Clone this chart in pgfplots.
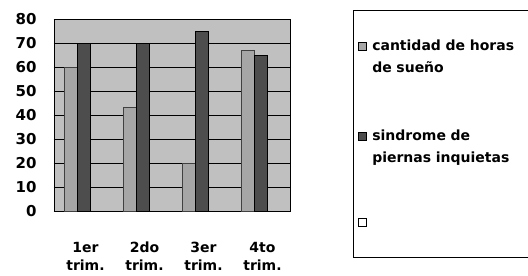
\documentclass[border=0pt]{standalone}
\usepackage{pgfplots}
\pgfplotsset{compat=1.18}
\usepackage{fontspec}
\setmainfont{DejaVu Sans}
\definecolor{bg}{HTML}{C0C0C0}
\definecolor{lightbar}{HTML}{A6A6A6}
\definecolor{darkbar}{HTML}{4D4D4D}
\begin{document}
\begin{tikzpicture}
\begin{axis}[
  at={(54pt,65pt)}, anchor=south west,
  width=236pt, height=192pt, scale only axis,
  xmin=0.5, xmax=4.5, ymin=0, ymax=80,
  ytick={0,10,...,80},
  xtick={1,2,3,4},
  xticklabels={{1er\strut\\trim.\strut},{2do\strut\\trim.\strut},{3er\strut\\trim.\strut},{4to\strut\\trim.\strut}},
  /pgf/number format/assume math mode=true,
  x tick label style={align=center, font=\bfseries\fontsize{14}{18}\selectfont, yshift=-21pt, xshift=2pt},
  y tick label style={font=\bfseries\fontsize{15}{15}\selectfont, xshift=-14pt},
  major x tick style={draw=none},
  extra x ticks={0.5,1.5,2.5,3.5,4.5}, extra x tick labels={},
  extra x tick style={grid=none, major tick length=5pt, tick style={black, line width=1pt}},
  ytick style={black, line width=0.8pt},
  ymajorgrids, grid style={black, line width=0.8pt},
  axis background/.style={fill=bg},
  axis line style={black, line width=0.8pt},
  ybar=0pt, bar width=13pt,
  legend style={at={(1.266,1.045)}, anchor=north west, draw=black, line width=1pt, fill=white,
    inner xsep=5pt, inner ysep=27pt, row sep=74pt, column sep=0pt,
    font=\bfseries\fontsize{14}{22}\selectfont,
    nodes={text width=190pt, align=left, anchor=base west, inner xsep=5pt}},
  legend cell align=left,
  legend image code/.code={\draw[#1, line width=1pt, draw=black] (0pt,0pt) rectangle (8pt,8pt);},
]
\addplot[fill=lightbar, draw=black!75, line width=0.8pt] coordinates {(0.9,60) (1.9,43) (2.9,20) (3.9,67)};
\addplot[fill=darkbar, draw=black, line width=0.8pt] coordinates {(0.9,70) (1.9,70) (2.9,75) (3.9,65)};
\addlegendentry{cantidad de horas\\de sueño}
\addlegendentry{sindrome de\\piernas inquietas}
\addlegendimage{fill=white}
\addlegendentry{\rule[-30pt]{0pt}{12pt}}
\end{axis}
\pgfresetboundingbox
\path[use as bounding box] (0pt,0pt) rectangle (528pt,276pt);
\end{tikzpicture}
\end{document}
